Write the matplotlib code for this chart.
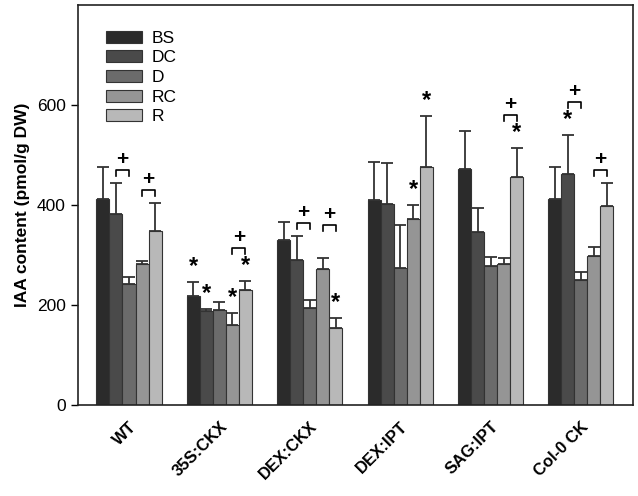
import numpy as np
import matplotlib
matplotlib.use("Agg")
import matplotlib.pyplot as plt

plt.rcParams['font.family'] = ['Liberation Sans', 'DejaVu Sans']

groups = ["WT", "35S:CKX", "DEX:CKX", "DEX:IPT", "SAG:IPT", "Col-0 CK"]
series = ["BS", "DC", "D", "RC", "R"]
colors = ["#2b2b2b", "#4a4a4a", "#6b6b6b", "#959595", "#b8b8b8"]

# IAA content per group (rows) and stage (columns)
values = np.array([
    [411, 381, 241, 281, 347],
    [218, 188, 189, 159, 229],
    [330, 289, 193, 271, 154],
    [410, 401, 273, 371, 475],
    [472, 345, 278, 281, 455],
    [411, 462, 249, 297, 397],
])
errors = np.array([
    [64, 62, 14, 7, 56],
    [28, 3, 16, 24, 18],
    [35, 48, 16, 22, 19],
    [76, 82, 87, 29, 102],
    [76, 48, 17, 12, 58],
    [64, 77, 16, 19, 46],
])

# significance marks: (group, bar index)
stars = [(1, 0), (1, 1), (1, 3), (1, 4), (2, 4), (3, 3), (3, 4), (4, 4), (5, 1)]
# "+" brackets: (group, left bar, right bar)
pluses = [(0, 1, 2), (0, 3, 4), (1, 3, 4), (2, 1, 2), (2, 3, 4),
          (4, 3, 4), (5, 1, 2), (5, 3, 4)]

fig = plt.figure(figsize=(6.38, 4.96), dpi=100)
ax = fig.add_axes([0.1223, 0.1835, 0.8697, 0.8065])

x = np.arange(len(groups))
w = 0.144
offsets = (np.arange(len(series)) - 2) * w

for k in range(len(series)):
    ax.bar(x + offsets[k], values[:, k], w, color=colors[k], edgecolor="#333333",
           linewidth=0.8, label=series[k], zorder=2)
    ax.errorbar(x + offsets[k], values[:, k], yerr=[np.zeros(len(groups)), errors[:, k]],
                fmt="none", ecolor="#333333", elinewidth=1.3, capsize=4.5, capthick=1.3, zorder=3)

tops = values + errors
for g, b in stars:
    ax.text(x[g] + offsets[b], tops[g, b] + 8, "*", ha="center", va="bottom",
            fontsize=17, fontweight="bold")

for g, b1, b2 in pluses:
    starred = (g, b1) in stars or (g, b2) in stars
    y = max(tops[g, b1], tops[g, b2]) + (66 if starred else 26)
    x1, x2 = x[g] + offsets[b1], x[g] + offsets[b2]
    ax.plot([x1, x1, x2, x2], [y - 11, y, y, y - 11], color="black", lw=1.2, zorder=3)
    ax.text((x1 + x2) / 2, y + 2, "+", ha="center", va="bottom", fontsize=15, fontweight="bold")

ax.set_xlim(-0.564, 5.575)
ax.set_ylim(0, 800)
ax.set_yticks([0, 200, 400, 600])
ax.tick_params(axis="y", labelsize=12.5, length=5, width=1, pad=4)
ax.set_xticks(x)
ax.set_xticklabels(groups, rotation=45, ha="right", rotation_mode="anchor",
                   fontsize=12, fontweight="bold")
ax.tick_params(axis="x", length=0, pad=10)
ax.set_ylabel("IAA content (pmol/g DW)", fontsize=12.5, fontweight="bold", labelpad=5)
for s in ax.spines.values():
    s.set_linewidth(1.2)
    s.set_color("#222222")

ax.legend(loc="upper left", bbox_to_anchor=(0.022, 0.975), frameon=False, fontsize=12.5,
          handlelength=2.1, handleheight=0.7, labelspacing=0.26, handletextpad=0.55)

fig.savefig("out.png", dpi=100, facecolor="white")
